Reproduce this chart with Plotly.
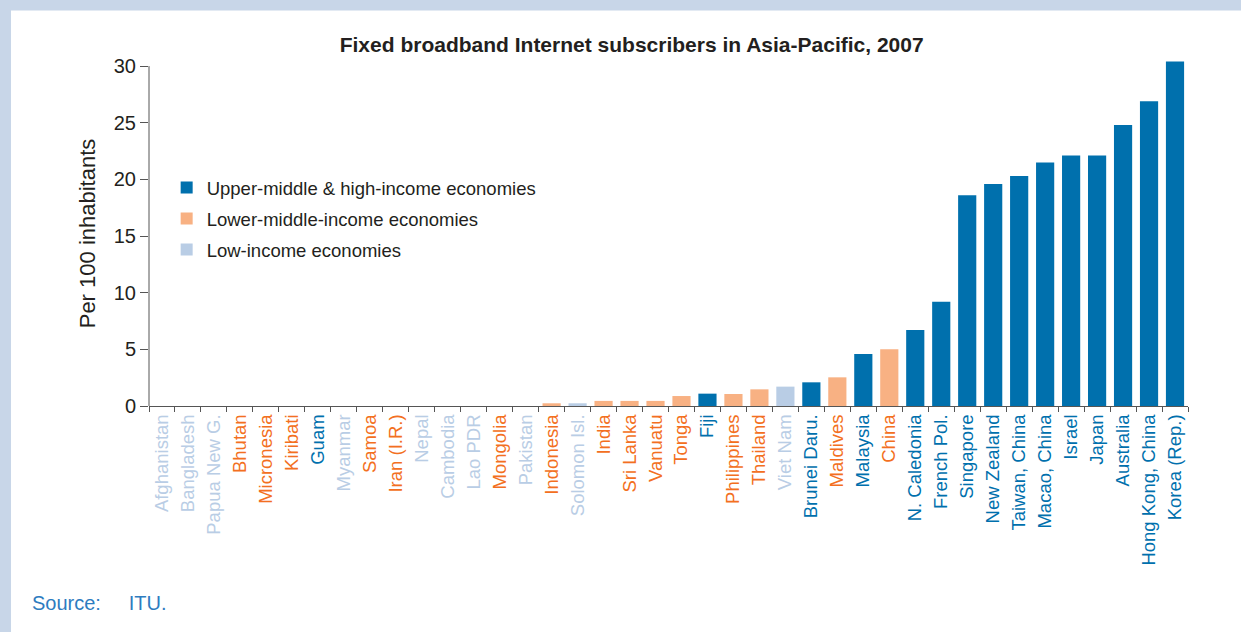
import plotly.graph_objects as go

# ITU, 2007 - fixed broadband subscribers per 100 inhabitants
countries = [
    'Afghanistan', 'Bangladesh', 'Papua New G.', 'Bhutan', 'Micronesia',
    'Kiribati', 'Guam', 'Myanmar', 'Samoa', 'Iran (I.R.)', 'Nepal',
    'Cambodia', 'Lao PDR', 'Mongolia', 'Pakistan', 'Indonesia',
    'Solomon Isl.', 'India', 'Sri Lanka', 'Vanuatu', 'Tonga', 'Fiji',
    'Philippines', 'Thailand', 'Viet Nam', 'Brunei Daru.', 'Maldives',
    'Malaysia', 'China', 'N. Caledonia', 'French Pol.', 'Singapore',
    'New Zealand', 'Taiwan, China', 'Macao, China', 'Israel', 'Japan',
    'Australia', 'Hong Kong, China', 'Korea (Rep.)',
]
subscribers = [
    0, 0, 0, 0, 0,
    0, 0, 0, 0, 0, 0,
    0, 0, 0, 0, 0.24,
    0.24, 0.45, 0.45, 0.45, 0.88, 1.09,
    1.06, 1.47, 1.71, 2.09, 2.53,
    4.6, 5.0, 6.7, 9.2, 18.6,
    19.6, 20.3, 21.5, 22.1, 22.1,
    24.8, 26.9, 30.4,
]
# H = upper-middle & high, M = lower-middle, L = low income
income = [
    'L', 'L', 'L', 'M', 'M',
    'M', 'H', 'L', 'M', 'M', 'L',
    'L', 'L', 'M', 'L', 'M',
    'L', 'M', 'M', 'M', 'M', 'H',
    'M', 'M', 'L', 'H', 'M',
    'H', 'M', 'H', 'H', 'H',
    'H', 'H', 'H', 'H', 'H',
    'H', 'H', 'H',
]
groups = ['H', 'M', 'L']
group_names = {
    'H': 'Upper-middle & high-income economies',
    'M': 'Lower-middle-income economies',
    'L': 'Low-income economies',
}

bar_colors = {'H': '#0070ad', 'M': '#f8b183', 'L': '#b9cde5'}
label_colors = {'H': '#0070ad', 'M': '#f36f21', 'L': '#b9cde5'}
FONT = 'Liberation Sans, Arial, sans-serif'

fig = go.Figure()
for g in groups:
    xs = [c for c, i in zip(countries, income) if i == g]
    ys = [v for v, i in zip(subscribers, income) if i == g]
    fig.add_trace(go.Bar(
        x=xs, y=ys, name=group_names[g], legendgroup=g,
        marker=dict(color=bar_colors[g], line=dict(width=0)),
    ))

ticktext = [f'<span style="color:{label_colors[i]}">{c}</span>'
            for c, i in zip(countries, income)]

fig.update_layout(
    width=1241, height=632,
    margin=dict(l=149, r=53, t=61, b=226),
    paper_bgcolor='white', plot_bgcolor='white',
    font=dict(family=FONT, color='#231f20'),
    barmode='overlay', bargap=0.3,
    showlegend=True,
    legend=dict(
        x=0.017, y=0.687, xanchor='left', yanchor='top',
        font=dict(size=18.5, color='#231f20'),
        bgcolor='rgba(0,0,0,0)', tracegroupgap=4,
    ),
    title=dict(
        text='<b>Fixed broadband Internet subscribers in Asia-Pacific, 2007</b>',
        x=0.509, xanchor='center', y=0.929, yanchor='middle',
        font=dict(size=21, color='#231f20'),
    ),
)

fig.update_xaxes(
    type='category', categoryorder='array', categoryarray=countries,
    tickmode='array', tickvals=countries, ticktext=ticktext,
    tickangle=-90, tickfont=dict(size=18.5),
    showline=True, linecolor='#555555', linewidth=1,
    ticks='outside', tickson='boundaries', ticklen=5, tickcolor='#555555',
    showgrid=False, zeroline=False,
)
fig.update_yaxes(
    range=[0, 30.45], tickvals=[0, 5, 10, 15, 20, 25, 30],
    tickfont=dict(size=20, color='#231f20'),
    ticks='outside', ticklen=8, tickcolor='#555555',
    showline=False, showgrid=False, zeroline=False,
    title=dict(text='Per 100 inhabitants', font=dict(size=22), standoff=12),
)

# y axis line stops at the top tick
fig.add_shape(type='line', xref='paper', yref='y', x0=0, x1=0, y0=0, y1=30,
              line=dict(color='#555555', width=1))

# page frame: light blue strips on top and left
fig.add_shape(type='rect', xref='paper', yref='paper', layer='below',
              x0=-0.2, x1=1.1, y0=1.1466, y1=1.4,
              fillcolor='#c8d6e8', line=dict(width=0))
fig.add_shape(type='rect', xref='paper', yref='paper', layer='below',
              x0=-0.2, x1=-0.1328, y0=-0.8, y1=1.4,
              fillcolor='#c8d6e8', line=dict(width=0))

fig.add_annotation(
    xref='paper', yref='paper', x=-0.1145, y=-0.572,
    xanchor='left', yanchor='middle', showarrow=False,
    text='Source:\u00a0\u00a0\u00a0\u00a0\u00a0ITU.',
    font=dict(family='Liberation Sans Narrow, Arial Narrow, ' + FONT,
              size=20, color='#2e7cbf'),
)

fig.write_html('out.html', config={'displayModeBar': False},
               post_script="document.body.style.margin='0';")
